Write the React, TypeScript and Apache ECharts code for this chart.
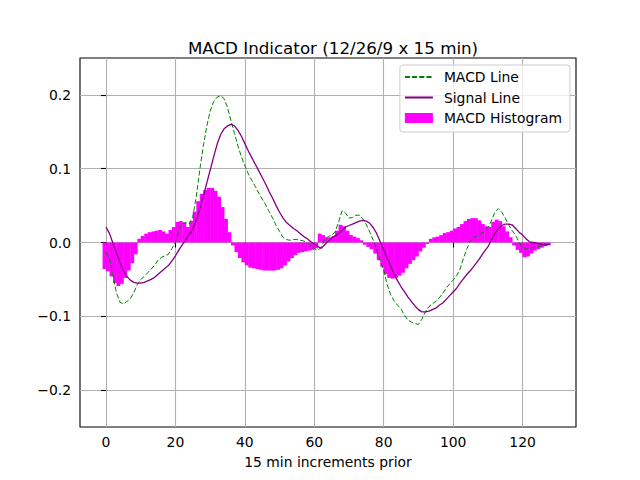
import React, { useEffect, useRef } from "react";
import * as echarts from "echarts";

const TITLE = "MACD Indicator (12/26/9 x 15 min)";
const X_NAME = "15 min increments prior";
const X_TICKS = [0, 20, 40, 60, 80, 100, 120];
const Y_TICKS = [-0.2, -0.1, 0, 0.1, 0.2];

const MACD_LINE = [
  -0.013, -0.022, -0.045, -0.068, -0.081, -0.083, -0.080, -0.076, -0.068, -0.057,
  -0.050, -0.046, -0.041, -0.036, -0.031, -0.024, -0.020, -0.018, -0.016, -0.008,
  0.000, 0.017, 0.026, 0.027, 0.025, 0.035, 0.062, 0.098, 0.130, 0.157,
  0.178, 0.191, 0.197, 0.199, 0.195, 0.183, 0.165, 0.148, 0.131, 0.116,
  0.104, 0.093, 0.084, 0.076, 0.067, 0.059, 0.051, 0.042, 0.033, 0.023,
  0.015, 0.007, 0.004, 0.003, 0.004, 0.004, 0.003, 0.002, -0.001, -0.004,
  -0.008, -0.011, -0.006, 0.004, 0.008, 0.010, 0.014, 0.028, 0.043, 0.040,
  0.033, 0.034, 0.037, 0.037, 0.032, 0.024, 0.014, 0.003, -0.010, -0.024,
  -0.038, -0.057, -0.071, -0.079, -0.085, -0.090, -0.099, -0.105, -0.108, -0.110,
  -0.111, -0.104, -0.094, -0.087, -0.083, -0.080, -0.075, -0.069, -0.062, -0.056,
  -0.051, -0.045, -0.036, -0.021, -0.008, 0.002, 0.007, 0.009, 0.012, 0.015,
  0.020, 0.029, 0.041, 0.046, 0.041, 0.033, 0.024, 0.016, 0.010, 0.000,
  -0.006, -0.009, -0.008, -0.007, -0.006, -0.005, -0.004, -0.003, -0.002,
];

const SIGNAL_LINE = [
  0.021, 0.012, -0.001, -0.014, -0.027, -0.038, -0.046, -0.051, -0.054, -0.055,
  -0.055, -0.054, -0.052, -0.050, -0.047, -0.043, -0.039, -0.035, -0.031, -0.025,
  -0.018, -0.010, -0.003, 0.004, 0.011, 0.018, 0.030, 0.045, 0.062, 0.080,
  0.098, 0.116, 0.133, 0.146, 0.154, 0.158, 0.160, 0.158, 0.152, 0.144,
  0.134, 0.124, 0.115, 0.106, 0.097, 0.088, 0.079, 0.069, 0.060, 0.050,
  0.041, 0.033, 0.027, 0.023, 0.019, 0.016, 0.012, 0.008, 0.005, 0.001,
  -0.002, -0.005, -0.008, -0.003, 0.002, 0.006, 0.009, 0.012, 0.016, 0.021,
  0.023, 0.025, 0.027, 0.029, 0.030, 0.029, 0.026, 0.020, 0.012, 0.001,
  -0.010, -0.021, -0.032, -0.043, -0.052, -0.060, -0.067, -0.074, -0.080, -0.086,
  -0.091, -0.094, -0.094, -0.093, -0.091, -0.089, -0.085, -0.082, -0.077, -0.072,
  -0.067, -0.062, -0.055, -0.049, -0.043, -0.038, -0.032, -0.026, -0.019, -0.012,
  -0.006, 0.003, 0.012, 0.019, 0.023, 0.025, 0.025, 0.024, 0.019, 0.014,
  0.010, 0.005, 0.001, 0.000, -0.001, -0.002, -0.003, -0.003, -0.003,
];

const HISTOGRAM = [
  -0.036, -0.039, -0.046, -0.055, -0.059, -0.056, -0.048, -0.038, -0.028, -0.016,
  0.005, 0.009, 0.012, 0.014, 0.015, 0.016, 0.017, 0.015, 0.012, 0.017,
  0.021, 0.028, 0.029, 0.027, 0.021, 0.029, 0.042, 0.056, 0.066, 0.071,
  0.074, 0.074, 0.070, 0.062, 0.048, 0.032, 0.014, -0.004, -0.013, -0.021,
  -0.027, -0.031, -0.034, -0.035, -0.036, -0.037, -0.038, -0.038, -0.038, -0.038,
  -0.037, -0.035, -0.031, -0.026, -0.021, -0.017, -0.014, -0.013, -0.012, -0.011,
  -0.010, -0.008, 0.012, 0.010, 0.007, 0.007, 0.009, 0.016, 0.024, 0.022,
  0.016, 0.010, 0.008, 0.006, 0.003, -0.003, -0.006, -0.009, -0.015, -0.024,
  -0.033, -0.043, -0.048, -0.049, -0.048, -0.045, -0.041, -0.035, -0.029, -0.024,
  -0.019, -0.012, -0.007, -0.002, 0.005, 0.007, 0.008, 0.010, 0.013, 0.014,
  0.016, 0.019, 0.021, 0.025, 0.029, 0.032, 0.033, 0.033, 0.030, 0.025,
  0.022, 0.021, 0.028, 0.031, 0.029, 0.022, 0.015, 0.007, -0.004, -0.010,
  -0.014, -0.020, -0.019, -0.015, -0.011, -0.009, -0.007, -0.005, -0.003,
];

const FONT = "DejaVu Sans";

export default function App() {
  const ref = useRef<HTMLDivElement>(null);

  useEffect(() => {
    if (!ref.current) return;
    const chart = echarts.init(ref.current, undefined, { renderer: "svg" });

    const macdData = MACD_LINE.map((v, i) => [i, v]);
    const signalData = SIGNAL_LINE.map((v, i) => [i, v]);
    const histData = HISTOGRAM.map((v, i) => [i, v]);

    const fmtY = (v: number) => {
      const s = Math.abs(v).toFixed(1);
      return v < -1e-9 ? "\u2212" + s : s;
    };

    chart.setOption({
      animation: false,
      backgroundColor: "#ffffff",
      textStyle: { fontFamily: FONT },
      title: {
        text: TITLE,
        left: 328,
        textAlign: "center",
        top: 34,
        textStyle: { fontFamily: FONT, fontSize: 16.7, fontWeight: "normal", color: "#000" },
      },
      grid: {
        left: 80,
        top: 58,
        width: 496,
        height: 369,
        show: true,
        borderColor: "#000",
        borderWidth: 1.1,
        backgroundColor: "transparent",
      },
      legend: {
        orient: "vertical",
        right: 70,
        top: 65,
        padding: [5, 8, 7, 4],
        itemGap: 6.5,
        itemWidth: 28,
        itemHeight: 10,
        backgroundColor: "rgba(255,255,255,0.8)",
        borderColor: "#cccccc",
        borderWidth: 1,
        borderRadius: 3,
        textStyle: { fontFamily: FONT, fontSize: 13.9, color: "#000", lineHeight: 14, padding: [0, 0, 0, 6] },
        data: [
          { name: "MACD Line", itemStyle: { opacity: 0 } },
          { name: "Signal Line", itemStyle: { opacity: 0 } },
          { name: "MACD Histogram", icon: "rect" },
        ],
      },
      xAxis: {
        type: "value",
        min: -7.5,
        max: 135.4,
        name: X_NAME,
        nameLocation: "middle",
        nameGap: 28,
        nameTextStyle: { fontFamily: FONT, fontSize: 13.9, color: "#000" },
        axisLine: { show: false },
        axisTick: { show: true, length: 5, lineStyle: { color: "#000", width: 1.1 }, customValues: X_TICKS },
        axisLabel: {
          customValues: X_TICKS,
          margin: 8,
          fontFamily: FONT,
          fontSize: 13.9,
          color: "#000",
          formatter: (v: number) => String(Math.round(v)),
        },
        splitLine: { show: true, lineStyle: { color: "#b0b0b0", width: 1.1 } },
      },
      yAxis: {
        type: "value",
        min: -0.25,
        max: 0.25,
        axisLine: { show: false },
        axisTick: { show: true, length: 5, lineStyle: { color: "#000", width: 1.1 }, customValues: Y_TICKS },
        axisLabel: {
          customValues: Y_TICKS,
          margin: 9,
          fontFamily: FONT,
          fontSize: 13.9,
          color: "#000",
          formatter: fmtY,
        },
        splitLine: { show: true, lineStyle: { color: "#b0b0b0", width: 1.1 } },
      },
      series: [
        {
          name: "MACD Line",
          type: "line",
          data: macdData,
          symbol: "none",
          z: 3,
          lineStyle: { color: "#008000", width: 1, type: [5, 2.2] },
          itemStyle: { color: "#008000" },
        },
        {
          name: "Signal Line",
          type: "line",
          data: signalData,
          symbol: "none",
          z: 4,
          lineStyle: { color: "#800080", width: 1.3 },
          itemStyle: { color: "#800080" },
        },
        {
          name: "MACD Histogram",
          type: "custom",
          z: 2,
          data: histData,
          itemStyle: { color: "#ff00ff" },
          renderItem: (params: any, api: any) => {
            const x = api.value(0);
            const v = api.value(1);
            const p0 = api.coord([x - 1, 0]);
            const p1 = api.coord([x, v]);
            const top = Math.min(p0[1], p1[1]);
            const h = Math.abs(p1[1] - p0[1]);
            return {
              type: "rect",
              shape: { x: p0[0], y: top, width: p1[0] - p0[0] + 0.4, height: h },
              style: { fill: "#ff00ff" },
            };
          },
        },
      ],
    });

    return () => chart.dispose();
  }, []);

  return (
    <div
      ref={ref}
      style={{ position: "absolute", left: 0, top: 0, width: 640, height: 480, background: "#fff" }}
    />
  );
}
